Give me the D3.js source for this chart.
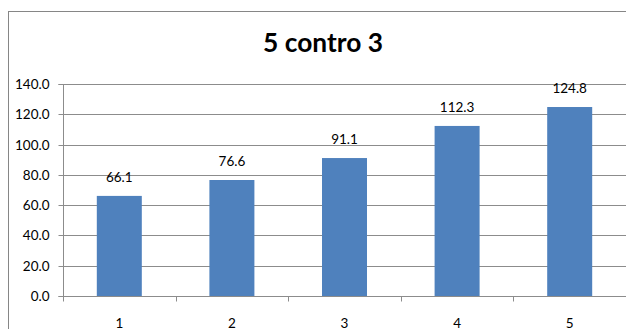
<!DOCTYPE html>
<html><head><meta charset="utf-8">
<script src="https://cdn.jsdelivr.net/npm/d3@7"></script>
<style>
html,body{margin:0;padding:0;background:#fff;}
svg{display:block;font-family:Lato,"Open Sans",sans-serif;}
</style></head>
<body>
<svg id="c" width="626" height="329"></svg>
<script>
const categories = ["1","2","3","4","5"];
const values = [66.1, 76.6, 91.1, 112.3, 124.8];
const yTicks = [0,20,40,60,80,100,120,140];
const title = "5 contro 3";

const svg = d3.select("#c");
const x0 = 63, x1 = 626, y0 = 296, y1 = 84;

// outer border
svg.append("rect").attr("x",8.5).attr("y",11.5).attr("width",640).attr("height",340)
  .attr("fill","none").attr("stroke","#868686").attr("stroke-width",1);

const xb = d3.scaleBand().domain(categories).range([x0, x1]);
const y = d3.scaleLinear().domain([0,140]).range([y0, y1]);

// gridlines
svg.append("g").selectAll("line").data(yTicks.filter(d=>d>0)).join("line")
  .attr("x1",x0).attr("x2",x1).attr("y1",d=>Math.round(y(d))+0.5).attr("y2",d=>Math.round(y(d))+0.5)
  .attr("stroke","#8c8c8c").attr("stroke-width",1);

// y axis
const ya = svg.append("g").attr("transform",`translate(${x0+0.5},0)`)
  .call(d3.axisLeft(y).tickValues(yTicks).tickFormat(d3.format(".1f")).tickSize(5).tickPadding(9));
ya.select(".domain").attr("stroke","#8c8c8c").attr("d",`M-5,${y1+0.5}H0V${y0+0.5}H-5`);
ya.selectAll(".tick line").attr("stroke","#8c8c8c");
ya.selectAll(".tick").attr("transform",d=>`translate(0,${Math.round(y(d))+0.5})`);
ya.selectAll("text").attr("font-size","13.5px").attr("fill","#000").attr("font-family","Lato,sans-serif");

// bars
svg.append("g").selectAll("rect").data(values).join("rect")
  .attr("x",(d,i)=>xb(categories[i]) + xb.bandwidth()/2 - 22.5)
  .attr("width",45)
  .attr("y",d=>y(d)).attr("height",d=>y0-y(d))
  .attr("fill","#4F81BD");

// x axis
const xa = svg.append("g").attr("transform",`translate(0,${y0+0.5})`);
xa.append("line").attr("x1",x0).attr("x2",x1).attr("stroke","#8c8c8c");
xa.selectAll("line.t").data(d3.range(categories.length+1)).join("line").attr("class","t")
  .attr("x1",i=>Math.round(x0+i*xb.step())+0.5).attr("x2",i=>Math.round(x0+i*xb.step())+0.5)
  .attr("y1",0).attr("y2",5).attr("stroke","#8c8c8c");
xa.selectAll("text").data(categories).join("text")
  .attr("x",d=>xb(d)+xb.bandwidth()/2).attr("y",31)
  .attr("text-anchor","middle").attr("font-size","13.5px").attr("fill","#000").text(d=>d);

// value labels
svg.append("g").selectAll("text").data(values).join("text")
  .attr("x",(d,i)=>xb(categories[i])+xb.bandwidth()/2)
  .attr("y",d=>y(d)-14)
  .attr("text-anchor","middle").attr("font-size","13.5px").attr("fill","#000")
  .text(d=>d3.format(".1f")(d));

// title
svg.append("text").attr("x",323).attr("y",52).attr("text-anchor","middle")
  .attr("font-size","26px").attr("font-weight","bold").attr("fill","#000")
  .attr("textLength",120).attr("lengthAdjust","spacingAndGlyphs")
  .text(title);
</script>
</body></html>
